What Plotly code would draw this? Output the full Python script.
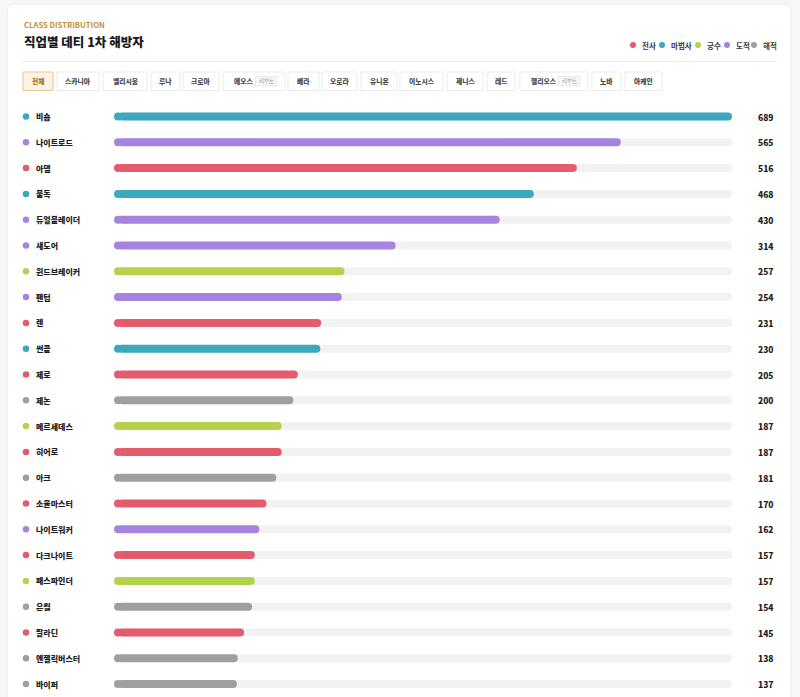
import plotly.graph_objects as go

# ---------------- data ----------------
CLASSES = ["비숍", "나이트로드", "아델", "불독", "듀얼블레이더", "섀도어", "윈드브레이커", "팬텀",
           "렌", "썬콜", "제로", "제논", "메르세데스", "히어로", "아크", "소울마스터",
           "나이트워커", "다크나이트", "패스파인더", "은월", "팔라딘", "엔젤릭버스터", "바이퍼"]
COUNTS = [689, 565, 516, 468, 430, 314, 257, 254, 231, 230, 205, 200, 187, 187, 181, 170,
          162, 157, 157, 154, 145, 138, 137]
GROUPS = ["마법사", "도적", "전사", "마법사", "도적", "도적", "궁수", "도적",
          "전사", "마법사", "전사", "해적", "궁수", "전사", "해적", "전사",
          "도적", "전사", "궁수", "해적", "전사", "해적", "해적"]
GROUP_NAMES = ["전사", "마법사", "궁수", "도적", "해적"]
GROUP_COLORS = {"전사": "#e35b6c", "마법사": "#3ba8c0", "궁수": "#b4d24c",
                "도적": "#a783e0", "해적": "#9f9f9f"}
TABS = ["전체", "스카니아", "엘리시움", "루나", "크로아", "에오스", "베라", "오로라", "유니온",
        "이노시스", "제니스", "레드", "헬리오스", "노바", "아케인"]
REBOOT_TABS = ["에오스", "헬리오스"]

# ---------------- layout helpers ----------------
W, H = 800, 697
FONT = "Noto Sans CJK KR"
def px(x): return x / W
def py(y): return 1 - y / H

ROW0, ROWSTEP = 116.5, 25.8
BAR_L, BAR_R = 114, 732
XMAX = max(COUNTS)
CAP = 4 * XMAX / (BAR_R - BAR_L)
n = len(CLASSES)
colors = [GROUP_COLORS[g] for g in GROUPS]

fig = go.Figure()

# track bars
fig.add_trace(go.Bar(y=CLASSES, x=[XMAX - CAP] * n, base=[CAP] * n, orientation="h",
                     width=8 / ROWSTEP, marker=dict(color="#f2f2f2", cornerradius=4, line_width=0),
                     hoverinfo="skip", showlegend=False))
# value bars
fig.add_trace(go.Bar(y=CLASSES, x=[v - CAP for v in COUNTS], base=[CAP] * n, orientation="h",
                     width=8 / ROWSTEP, marker=dict(color=colors, cornerradius=4, line_width=0),
                     customdata=COUNTS, hovertemplate="%{y}: %{customdata}<extra></extra>",
                     showlegend=False))
# round left caps
fig.add_trace(go.Scatter(y=CLASSES, x=[CAP] * n, mode="markers",
                         marker=dict(color=colors, size=8, line_width=0),
                         hoverinfo="skip", showlegend=False, cliponaxis=False))
# class dots
fig.add_trace(go.Scatter(y=CLASSES, x=[26] * n, xaxis="x2", mode="markers",
                         marker=dict(color=colors, size=6.5, line_width=0),
                         hoverinfo="skip", showlegend=False, cliponaxis=False))

annotations = []
for name, v in zip(CLASSES, COUNTS):
    annotations.append(dict(xref="paper", yref="y", x=px(34), y=name, xanchor="left", yanchor="middle",
                            text=name, showarrow=False,
                            font=dict(family=FONT, size=8, color="#1e1e1e", weight=900)))
    annotations.append(dict(xref="paper", yref="y", x=px(776), y=name, xanchor="right", yanchor="middle",
                            text=str(v), showarrow=False,
                            font=dict(family=FONT, size=8.5, color="#1e1e1e", weight=900)))

shapes = []
# card
cl, cr, ct, cb, r = 7, 791, 4, 720, 7
path = (f"M {px(cl)},{py(cb)} L {px(cl)},{py(ct + r)} Q {px(cl)},{py(ct)} {px(cl + r)},{py(ct)} "
        f"L {px(cr - r)},{py(ct)} Q {px(cr)},{py(ct)} {px(cr)},{py(ct + r)} L {px(cr)},{py(cb)} Z")
shapes.append(dict(type="path", xref="paper", yref="paper", path=path, fillcolor="#ffffff",
                   line=dict(color="#e9e9e9", width=1), layer="below"))
# separator
shapes.append(dict(type="line", xref="paper", yref="paper", x0=px(22), x1=px(776), y0=py(61.5), y1=py(61.5),
                   line=dict(color="#ededed", width=1), layer="below"))

# header
annotations.append(dict(xref="paper", yref="paper", x=px(22), y=py(24.5), xanchor="left", yanchor="middle",
                        text="CLASS DISTRIBUTION", showarrow=False,
                        font=dict(family=FONT, size=7.7, color="#c49033", weight=700)))
annotations.append(dict(xref="paper", yref="paper", x=px(21.5), y=py(41.5), xanchor="left", yanchor="middle",
                        text="직업별 데티 1차 해방자", showarrow=False,
                        font=dict(family=FONT, size=12.5, color="#1a1a1a", weight=900)))

# legend
LEG_DOTS = [633, 662, 698, 727, 754]
for g, dx in zip(GROUP_NAMES, LEG_DOTS):
    shapes.append(dict(type="circle", xref="paper", yref="paper", x0=px(dx - 3), x1=px(dx + 3),
                       y0=py(45 + 3), y1=py(45 - 3), fillcolor=GROUP_COLORS[g], line_width=0))
    annotations.append(dict(xref="paper", yref="paper", x=px(dx + 7), y=py(45), xanchor="left", yanchor="middle",
                            text=g, showarrow=False, font=dict(family=FONT, size=7.5, color="#3a3a3a", weight=700)))

# tabs
TAB_X = [(23, 53), (57, 99), (103, 147), (151, 180), (183, 219), (223, 285), (288, 319), (322, 357),
         (361, 397), (400, 443), (447, 483), (487, 515), (520, 588), (592, 621), (625, 662)]
for i, (t, (x0, x1)) in enumerate(zip(TABS, TAB_X)):
    active = i == 0
    shapes.append(dict(type="rect", xref="paper", yref="paper", x0=px(x0), x1=px(x1), y0=py(90.5), y1=py(72),
                       fillcolor="#fdf3e2" if active else "#ffffff",
                       line=dict(color="#e8c98f" if active else "#ebebeb", width=1)))
    tcolor = "#a8721f" if active else "#4a4a4a"
    tfont = dict(family=FONT, size=6.8, color=tcolor, weight=800)
    if t in REBOOT_TABS:
        tx = x0 + 9
        annotations.append(dict(xref="paper", yref="paper", x=px(tx), y=py(81.3), xanchor="left", yanchor="middle",
                                text=t, showarrow=False, font=tfont))
        bx1 = x1 - 8
        bx0 = bx1 - 22
        shapes.append(dict(type="rect", xref="paper", yref="paper", x0=px(bx0), x1=px(bx1), y0=py(86), y1=py(76.5),
                           fillcolor="#f7f7f7", line=dict(color="#e6e6e6", width=0.8)))
        annotations.append(dict(xref="paper", yref="paper", x=px((bx0 + bx1) / 2), y=py(81.3), xanchor="center",
                                yanchor="middle", text="리부트", showarrow=False,
                                font=dict(family=FONT, size=5.5, color="#9a9a9a")))
    else:
        annotations.append(dict(xref="paper", yref="paper", x=px((x0 + x1) / 2), y=py(81.3), xanchor="center",
                                yanchor="middle", text=t, showarrow=False, font=tfont))

fig.update_layout(
    width=W, height=H, margin=dict(l=0, r=0, t=0, b=0),
    paper_bgcolor="#f7f7f7", plot_bgcolor="rgba(0,0,0,0)",
    barmode="overlay", showlegend=False,
    xaxis=dict(domain=[px(BAR_L), px(BAR_R)], range=[0, XMAX], visible=False, fixedrange=True),
    xaxis2=dict(domain=[0, 1], range=[0, W], visible=False, anchor="y", fixedrange=True),
    yaxis=dict(domain=[0, 1], type="category", categoryorder="array", categoryarray=CLASSES,
               range=[(H - ROW0) / ROWSTEP, -ROW0 / ROWSTEP], visible=False, fixedrange=True),
    shapes=shapes, annotations=annotations,
    font=dict(family=FONT),
)

fig.write_html("out.html")
